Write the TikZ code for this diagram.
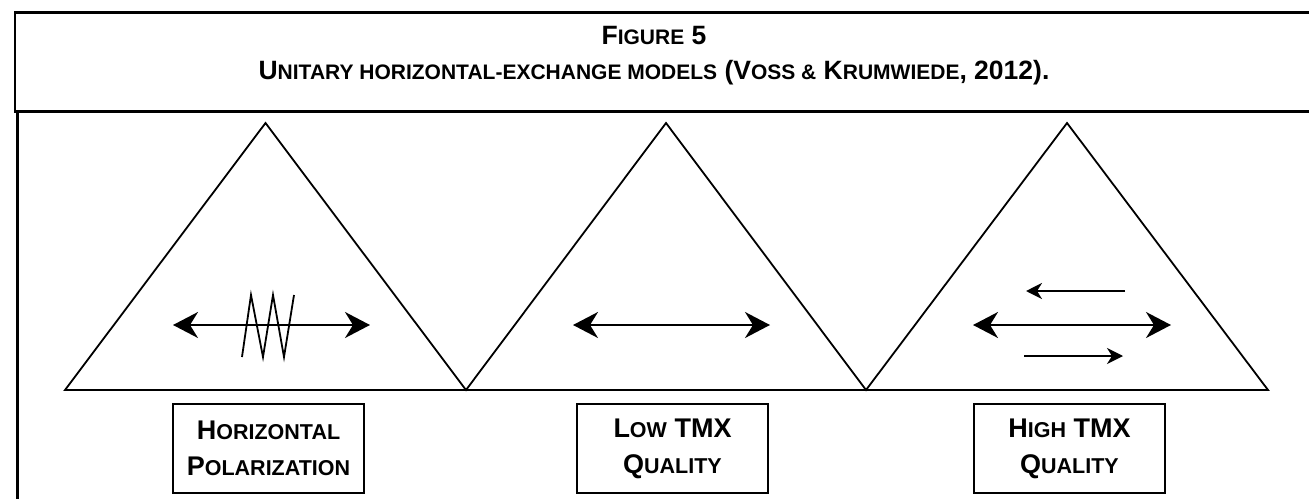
\documentclass[tikz,border=0pt]{standalone}
\usepackage{fontspec}
\setmainfont{Liberation Sans}
\usetikzlibrary{arrows.meta}
% fake small capitals: full-size initials, reduced-size capitals for the rest
\newcommand\tsm[1]{{\fontsize{21}{22}\selectfont #1}}
\newcommand\bsm[1]{{\fontsize{21.5}{22}\selectfont #1}}
\begin{document}
\begin{tikzpicture}[x=1pt,y=-1pt,
  frame/.style={line width=3pt, line cap=rect},
  tri/.style={line width=1.8pt, line join=miter},
  label box/.style={draw, line width=1.8pt, minimum width=191pt, minimum height=89pt,
    align=center, font=\fontsize{27}{36}\selectfont\bfseries, inner sep=0pt},
  head/.style={align=center, font=\fontsize{26.5}{35}\selectfont\bfseries},
  bigtip/.style={{Stealth[length=25pt,width=26pt,inset=8pt]}-{Stealth[length=25pt,width=26pt,inset=8pt]}, line width=2pt},
  smalltip/.style={-{Stealth[length=16pt,width=16pt,inset=5pt]}, line width=2pt}]
\useasboundingbox[fill=white] (0,0) rectangle (1309,498);

% header frame and lower frame
\draw[frame] (15,12.5) -- (1309,12.5);
\draw[line width=2pt] (15,12) -- (15,111);
\draw[frame] (15,111) -- (1309,111);
\draw[frame] (17,111) -- (17,498);

\node[head] (title) at (654,56) {F\tsm{IGURE} 5\\U\tsm{NITARY HORIZONTAL-EXCHANGE MODELS} (V\tsm{OSS \&} K\tsm{RUMWIEDE}, 2012).};

% triangles
\coordinate (b0) at (65,390);
\coordinate (b1) at (466,390);
\coordinate (b2) at (866,390);
\coordinate (b3) at (1268,390);
\coordinate (t1) at (265.5,123);
\coordinate (t2) at (666,123);
\coordinate (t3) at (1067,123);
\draw[tri] (b0) -- (t1) -- (b1) -- (t2) -- (b2) -- (t3) -- (b3) -- cycle;

% horizontal polarization: exchange arrow crossed by a zigzag
\coordinate (a1l) at (173,325);
\coordinate (a1r) at (370,325);
\draw[bigtip] (a1l) -- (a1r);
\draw[line width=1.8pt, line join=miter] (242,357) -- (251,295) -- (263,357) -- (273,295) -- (284,357) -- (294,295);

% low TMX quality: single exchange arrow
\coordinate (a2l) at (573,325);
\coordinate (a2r) at (770,325);
\draw[bigtip] (a2l) -- (a2r);

% high TMX quality: exchange arrow with flows both ways
\coordinate (a3l) at (973,325);
\coordinate (a3r) at (1171,325);
\draw[bigtip] (a3l) -- (a3r);
\coordinate (u1) at (1125,291);
\coordinate (u2) at (1026,291);
\draw[smalltip] (u1) -- (u2);
\coordinate (d1) at (1024,356);
\coordinate (d2) at (1123,356);
\draw[smalltip] (d1) -- (d2);

% labels
\node[label box] (L1) at (268.5,448.5) {H\bsm{ORIZONTAL}\\P\bsm{OLARIZATION}};
\node[label box] (L2) at (672.5,448.5) {L\bsm{OW} TMX\\Q\bsm{UALITY}};
\node[label box] (L3) at (1069.5,448.5) {H\bsm{IGH} TMX\\Q\bsm{UALITY}};
\end{tikzpicture}
\end{document}
